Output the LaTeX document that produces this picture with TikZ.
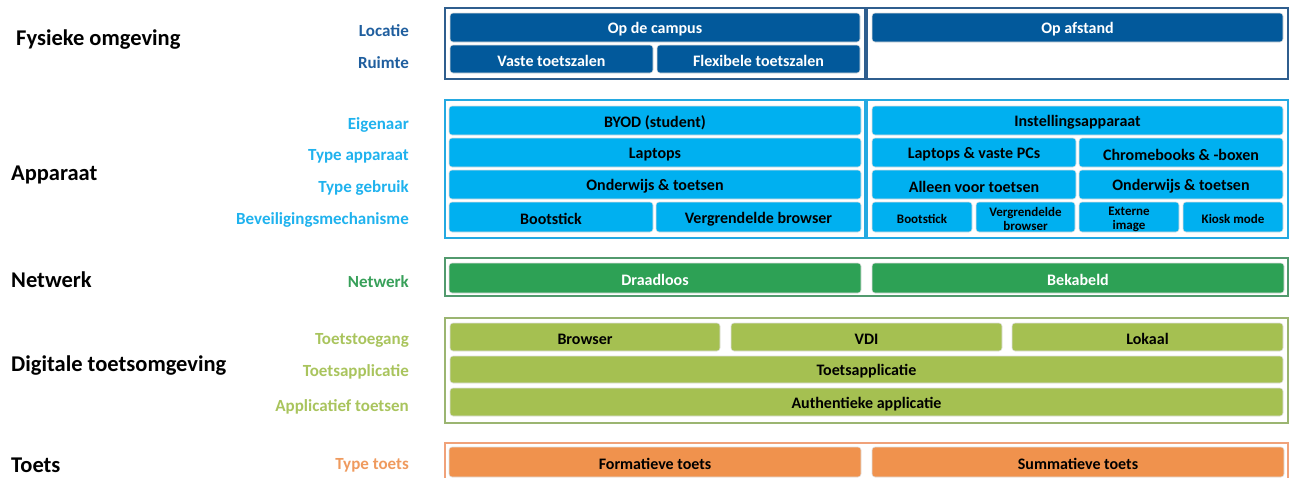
\documentclass[tikz,border=0pt]{standalone}
\usepackage{fontspec}
\setmainfont{Carlito}
\definecolor{dblue}{HTML}{02599B}
\definecolor{dblueF}{HTML}{2F5E8E}
\definecolor{dblueL}{HTML}{1F5E9E}
\definecolor{lblue}{HTML}{00B0F0}
\definecolor{lblueF}{HTML}{24A9E1}
\definecolor{lblueL}{HTML}{1FB2EE}
\definecolor{grn}{HTML}{2DA155}
\definecolor{grnF}{HTML}{529A6E}
\definecolor{grnL}{HTML}{38A05A}
\definecolor{olv}{HTML}{A5C051}
\definecolor{olvF}{HTML}{9BB571}
\definecolor{olvL}{HTML}{A9C45D}
\definecolor{org}{HTML}{F0924D}
\definecolor{orgF}{HTML}{F0A27A}
\definecolor{orgL}{HTML}{EF9A5E}
\newcommand\bx[7]{\node[#6, minimum width={(#4-#2)*1pt}, minimum height={(#5-#3)*1pt}] (#1) at ({(#2+#4)/2},{(#3+#5)/2}) {};
  \node[#6, bxtext] (#1-t) at ([yshift=-2pt]#1.center) {#7};}
\newcommand\frm[6]{\node[draw=#6, line width=1.6pt, inner sep=0pt, minimum width={(#4-#2)*1pt}, minimum height={(#5-#3)*1pt}] (#1) at ({(#2+#4)/2},{(#3+#5)/2}) {};}
\tikzset{
  bxbase/.style={rounded corners=3pt, inner sep=0pt, draw=white!88!black, line width=0.6pt, font=\fontsize{16}{18}\selectfont\bfseries, align=center},
  bxtext/.style={fill=none, draw=none, minimum width=0pt, minimum height=0pt},
  bdb/.style={bxbase, fill=dblue, text=white},
  blb/.style={bxbase, fill=lblue, text=black},
  blbs/.style={blb, font=\fontsize{13}{14}\selectfont\bfseries},
  bgr/.style={bxbase, fill=grn, text=white},
  bol/.style={bxbase, fill=olv, text=black},
  bor/.style={bxbase, fill=org, text=black},
  header/.style={anchor=west, font=\fontsize{22.5}{24}\selectfont\bfseries, text=black, inner sep=0pt},
  lbl/.style={anchor=east, font=\fontsize{17}{19}\selectfont\bfseries, inner sep=0pt},
}
\begin{document}
\begin{tikzpicture}[x=1pt,y=-1pt]
\useasboundingbox (0,0) rectangle (1293,477);
\clip (0,0) rectangle (1293,477);
% headers
\node[header] (h1) at (16,40) {Fysieke omgeving};
\node[header] (h2) at (11,174.5) {Apparaat};
\node[header] (h3) at (11,280) {Netwerk};
\node[header] (h4) at (11,366) {Digitale toetsomgeving};
\node[header] (h5) at (11,465) {Toets};
% labels
\node[lbl, text=dblueL] (l1) at (409,31) {Locatie};
\node[lbl, text=dblueL] (l2) at (409,63) {Ruimte};
\node[lbl, text=lblueL] (l3) at (409,125) {Eigenaar};
\node[lbl, text=lblueL] (l4) at (409,156) {Type apparaat};
\node[lbl, text=lblueL] (l5) at (409,188) {Type gebruik};
\node[lbl, text=lblueL] (l6) at (409,220) {Beveiligingsmechanisme};
\node[lbl, text=grnL] (l7) at (409,282) {Netwerk};
\node[lbl, text=olvL] (l8) at (409,340) {Toetstoegang};
\node[lbl, text=olvL] (l9) at (409,372) {Toetsapplicatie};
\node[lbl, text=olvL] (l10) at (409,407) {Applicatief toetsen};
\node[lbl, text=orgL] (l11) at (409,465) {Type toets};
% frames
\frm{f1a}{445}{8}{865}{79}{dblueF}
\frm{f1b}{867}{8}{1288}{79}{dblueF}
\frm{f2a}{445}{100}{865}{238}{lblueF}
\frm{f2b}{867}{100}{1288}{238}{lblueF}
\frm{f3}{445}{258}{1288}{296}{grnF}
\frm{f4}{445}{318}{1288}{423}{olvF}
\frm{f5}{445}{443}{1288}{490}{orgF}
% Fysieke omgeving
\bx{campus}{450}{13}{860}{42}{bdb}{Op de campus}
\bx{vaste}{450}{45}{653}{73}{bdb}{Vaste toetszalen}
\bx{flex}{657}{45}{860}{73}{bdb}{Flexibele toetszalen}
\bx{afstand}{872}{13}{1283}{42}{bdb}{Op afstand}
% Apparaat left
\bx{byod}{449}{106}{861}{135}{blb}{BYOD (student)}
\bx{laptops}{449}{138}{861}{167}{blb}{Laptops}
\bx{ondL}{449}{170}{861}{199}{blb}{Onderwijs \& toetsen}
\bx{bootL}{449}{202}{653}{232}{blb}{Bootstick}
\bx{vergL}{656}{202}{861}{232}{blb}{Vergrendelde browser}
% Apparaat right
\bx{inst}{872}{106}{1283}{135}{blb}{Instellingsapparaat}
\bx{lpc}{872}{138}{1076}{167}{blb}{Laptops \& vaste PCs}
\bx{chrome}{1079}{138}{1283}{167}{blb}{Chromebooks \& -boxen}
\bx{alleen}{872}{170}{1076}{199}{blb}{Alleen voor toetsen}
\bx{ondR}{1079}{170}{1283}{199}{blb}{Onderwijs \& toetsen}
\bx{bootR}{872}{202}{972}{232}{blbs}{Bootstick}
\bx{vergR}{976}{202}{1075}{232}{blbs}{Vergrendelde\\browser}
\bx{ext}{1079}{202}{1179}{232}{blbs}{Externe\\image}
\bx{kiosk}{1183}{202}{1283}{232}{blbs}{Kiosk mode}
% Netwerk
\bx{draad}{449}{263}{861}{293}{bgr}{Draadloos}
\bx{bekab}{872}{263}{1284}{293}{bgr}{Bekabeld}
% Digitale toetsomgeving
\bx{browser}{450}{323}{720}{351}{bol}{Browser}
\bx{vdi}{731}{323}{1002}{351}{bol}{VDI}
\bx{lokaal}{1012}{323}{1283}{351}{bol}{Lokaal}
\bx{tapp}{450}{356}{1283}{383}{bol}{Toetsapplicatie}
\bx{auth}{450}{388}{1283}{416}{bol}{Authentieke applicatie}
% Toets
\bx{form}{449}{447}{861}{477}{bor}{Formatieve toets}
\bx{summ}{872}{447}{1284}{477}{bor}{Summatieve toets}
\end{tikzpicture}
\end{document}
